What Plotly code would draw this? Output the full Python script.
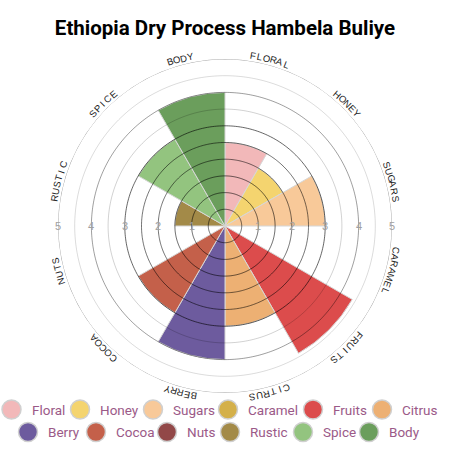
import math
import numpy as np
import plotly.graph_objects as go

# ---------------- data ----------------
categories = ["Floral", "Honey", "Sugars", "Caramel", "Fruits", "Citrus",
              "Berry", "Cocoa", "Nuts", "Rustic", "Spice", "Body"]
scores = [2.5, 2.0, 3.0, 0.0, 4.4, 3.0, 4.0, 3.0, 0.0, 1.5, 3.0, 4.0]
colors = ["#f2b8b9", "#f4d46f", "#f8c999", "#d4b04a", "#dc4c4c", "#edb073",
          "#6d5b9e", "#c4604a", "#924848", "#a38a48", "#93c47f", "#6b9e5c"]
radial_ticks = [1, 2, 3, 4, 5]
title_text = "Ethiopia Dry Process Hambela Buliye"

# ---------------- layout constants ----------------
W = H = 450
CX, CY, RPX = 225.0, 226.0, 167.0   # polar centre (px from top-left) and radius of r=5
RMAX = 5.0
SECTOR = 360.0 / len(categories)
thetas = [SECTOR * i + SECTOR / 2 for i in range(len(categories))]


def px(x):
    return x / W


def py(y_from_top):
    return (H - y_from_top) / H


fig = go.Figure()

fig.add_trace(go.Barpolar(
    r=scores, theta=thetas, width=[SECTOR] * len(categories),
    marker=dict(color=colors, line=dict(color="#d6d6d6", width=1)),
    showlegend=False, hoverinfo="skip",
))

# grid circles (drawn above bars)
grid_r = [0.5, 1, 1.5, 2, 2.5, 3, 3.5, 4, 4.5, 5]
grid_alpha = [0.6, 0.6, 0.6, 0.55, 0.55, 0.6, 0.18, 0.38, 0.14, 0.4]
circ = np.linspace(0, 360, 361)
for gr, ga in zip(grid_r, grid_alpha):
    fig.add_trace(go.Scatterpolar(
        r=[gr] * len(circ), theta=circ, mode="lines",
        line=dict(color=f"rgba(0,0,0,{ga})", width=1),
        showlegend=False, hoverinfo="skip",
    ))

fig.update_layout(
    width=W, height=H,
    margin=dict(l=0, r=0, t=0, b=0),
    paper_bgcolor="white",
    showlegend=False,
    polar=dict(
        domain=dict(x=[px(CX - RPX), px(CX + RPX)], y=[py(CY + RPX), py(CY - RPX)]),
        bgcolor="white",
        bargap=0,
        radialaxis=dict(range=[0, RMAX], showgrid=False, showline=False,
                        showticklabels=False, ticks=""),
        angularaxis=dict(rotation=90, direction="clockwise", showgrid=False,
                         showline=False, showticklabels=False, ticks=""),
    ),
    title=dict(text=f"<b>{title_text}</b>", x=0.5, xanchor="center",
               y=py(28), yanchor="middle", yref="paper",
               font=dict(family="Roboto", size=20.5, color="#000")),
)

annotations = []
unit = RPX / RMAX
# radial tick labels on both sides of the horizontal
for t in radial_ticks:
    for sgn in (1, -1):
        annotations.append(dict(
            x=px(CX + sgn * t * unit), y=py(CY), xref="paper", yref="paper",
            text=str(t), showarrow=False, xanchor="center", yanchor="middle",
            font=dict(family="Liberation Sans", size=11, color="#a0a0a0"),
        ))

# curved category labels around the circle
R_LAB = 173.0
STEP = math.degrees(7.0 / R_LAB)
for cat, th in zip(categories, thetas):
    word = cat.upper()
    n = len(word)
    for j, ch in enumerate(word):
        a = th + (j - (n - 1) / 2) * STEP
        ar = math.radians(a)
        x = CX + R_LAB * math.sin(ar)
        y = CY - R_LAB * math.cos(ar)
        ang = ((a + 180) % 360) - 180
        annotations.append(dict(
            x=px(x), y=py(y), xref="paper", yref="paper", text=ch,
            showarrow=False, xanchor="center", yanchor="middle", textangle=ang,
            font=dict(family="Liberation Sans", size=9.5, color="#222"),
        ))

# manual legend: two rows of circles + labels
LEG_X = [11.5, 80, 153, 228, 313, 382, 28, 96, 167, 230, 303, 369]
LEG_Y = [409.5] * 6 + [432] * 6
shapes = []
for cat, col, lx, ly in zip(categories, colors, LEG_X, LEG_Y):
    shapes.append(dict(type="circle", xref="paper", yref="paper",
                       x0=px(lx - 9.5), x1=px(lx + 9.5), y0=py(ly + 9.5), y1=py(ly - 9.5),
                       fillcolor=col, line=dict(color="#d0d0d0", width=1.5)))
    annotations.append(dict(
        x=px(lx + 18), y=py(ly), xref="paper", yref="paper", text=cat,
        showarrow=False, xanchor="left", yanchor="middle",
        font=dict(family="Roboto", size=13.5, color="#9b5a88"),
    ))

fig.update_layout(annotations=annotations, shapes=shapes)
fig.write_html("out.html", config={"displayModeBar": False},
               post_script="document.body.style.margin='0';document.body.style.overflow='hidden';")
